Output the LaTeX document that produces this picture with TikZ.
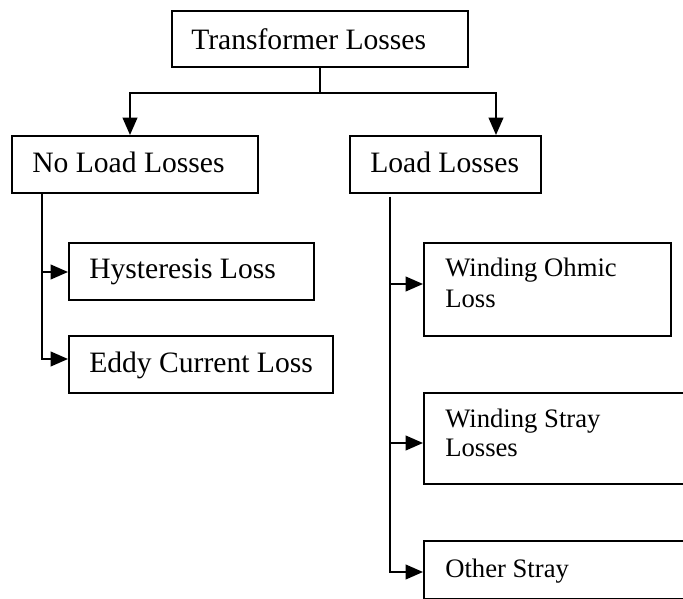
\documentclass[tikz,border=0pt]{standalone}
\usepackage{fontspec}
\setmainfont{Liberation Serif}
\usetikzlibrary{arrows.meta,calc}
\begin{document}
\begin{tikzpicture}[x=0.75pt,y=-0.75pt,
  box/.style={draw,line width=1.4pt,inner sep=0pt,anchor=north west},
  big/.style={font=\fontsize{22.2}{26}\selectfont,anchor=base west,inner sep=0pt},
  small/.style={font=\fontsize{20}{23}\selectfont,anchor=base west,inner sep=0pt,align=left},
  conn/.style={line width=1.4pt,-{Triangle[length=13pt,width=11pt]}},
  plain/.style={line width=1.4pt}]
\useasboundingbox (0,0) rectangle (683,599);
% boxes
\node[box,minimum width=296*0.75pt,minimum height=56*0.75pt] (T) at (171,10) {};
\node[box,minimum width=246*0.75pt,minimum height=57*0.75pt] (NL) at (11,135) {};
\node[box,minimum width=191*0.75pt,minimum height=57*0.75pt] (LL) at (349,135) {};
\node[box,minimum width=245*0.75pt,minimum height=57*0.75pt] (HY) at (68,242) {};
\node[box,minimum width=264*0.75pt,minimum height=57*0.75pt] (EC) at (68,335) {};
\node[box,minimum width=247*0.75pt,minimum height=93*0.75pt] (WO) at (423,242) {};
\node[box,minimum width=270*0.75pt,minimum height=91*0.75pt] (WS) at (423,392) {};
\node[box,minimum width=270*0.75pt,minimum height=57.5*0.75pt] (OS) at (423,540) {};
% texts
\node[big] (tT) at ($(T.north west)+(20,40)$) {Transformer Losses};
\node[big] (tNL) at ($(NL.north west)+(21,38)$) {No Load Losses};
\node[big] (tLL) at ($(LL.north west)+(21,38)$) {Load Losses};
\node[big] (tHY) at ($(HY.north west)+(21,37)$) {Hysteresis Loss};
\node[big] (tEC) at ($(EC.north west)+(21,38)$) {Eddy Current Loss};
\node[small] (tWO1) at ($(WO.north west)+(22,35)$) {Winding Ohmic};
\node[small] (tWO2) at ($(WO.north west)+(22,65.5)$) {Loss};
\node[small] (tWS1) at ($(WS.north west)+(22,35)$) {Winding Stray};
\node[small] (tWS2) at ($(WS.north west)+(22,65)$) {Losses};
\node[small] (tOS) at ($(OS.north west)+(22,37)$) {Other Stray};
% top connectors
\coordinate (J) at ($(T.south)+(0,25)$);
\draw[plain] (T.south) -- (J);
\draw[conn] (J) -| ($(NL.north west)+(119,0)$);
\draw[conn] (J) -| ($(LL.north west)+(147,0)$);
% no load branches
\coordinate (NLs) at ($(NL.south west)+(31,0)$);
\draw[conn] (NLs) |- ($(HY.north west)+(0,30)$);
\draw[conn] (NLs) |- ($(EC.north west)+(0,24)$);
% load branches
\coordinate (LLs) at ($(LL.south west)+(41,3)$);
\draw[conn] (LLs) |- ($(WO.north west)+(0,42)$);
\draw[conn] (LLs) |- ($(WS.north west)+(0,51)$);
\draw[conn] (LLs) |- ($(OS.north west)+(0,32)$);
\end{tikzpicture}
\end{document}
